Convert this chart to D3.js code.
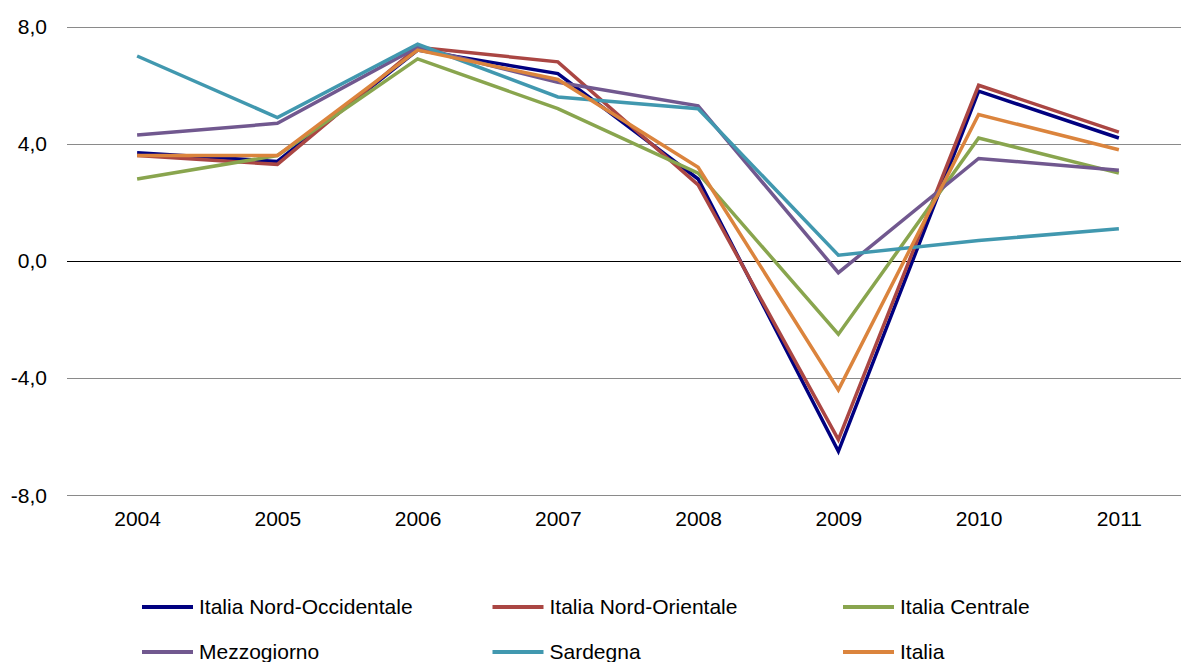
<!DOCTYPE html>
<html>
<head>
<meta charset="utf-8">
<script src="https://cdn.jsdelivr.net/npm/d3@7"></script>
<style>
  body { margin: 0; background: #fff; }
  svg { display: block; font-family: "Liberation Sans", Arial, sans-serif; }
</style>
</head>
<body>
<div id="chart"></div>
<script>
// categories and series
var years = ["2004", "2005", "2006", "2007", "2008", "2009", "2010", "2011"];
var yTicks = [-8, -4, 0, 4, 8];

var nordOccidentale = [3.7, 3.4, 7.2, 6.4, 2.8, -6.5, 5.8, 4.2];
var nordOrientale   = [3.6, 3.3, 7.3, 6.8, 2.6, -6.1, 6.0, 4.4];
var centrale        = [2.8, 3.6, 6.9, 5.2, 3.0, -2.5, 4.2, 3.0];
var mezzogiorno     = [4.3, 4.7, 7.3, 6.1, 5.3, -0.4, 3.5, 3.1];
var sardegna        = [7.0, 4.9, 7.4, 5.6, 5.2, 0.2, 0.7, 1.1];
var italia          = [3.6, 3.6, 7.2, 6.2, 3.2, -4.4, 5.0, 3.8];

var seriesNames = ["Italia Nord-Occidentale", "Italia Nord-Orientale", "Italia Centrale",
                   "Mezzogiorno", "Sardegna", "Italia"];
var seriesColors = ["#000080", "#AA4643", "#89A54E", "#71588F", "#4198AF", "#DB843D"];

var series = [nordOccidentale, nordOrientale, centrale, mezzogiorno, sardegna, italia].map(function(v, i) {
  return { name: seriesNames[i], color: seriesColors[i], values: v };
});

var width = 1181, height = 662;
var left = 67, right = 1189;
var fontSize = 21;

// italian number format, plain hyphen for minus
var itFormat = d3.formatLocale({
  decimal: ",", thousands: ".", grouping: [3], currency: ["", " €"], minus: "-"
}).format(".1f");

var svg = d3.select("#chart").append("svg")
    .attr("width", width)
    .attr("height", height);

var x = d3.scalePoint().domain(years).range([left, right]).padding(0.5);
var y = d3.scaleLinear().domain([-8, 8]).range([495.3, 26.7]);

// gridlines
svg.append("g").selectAll("line")
  .data(yTicks)
  .join("line")
    .attr("x1", left)
    .attr("x2", width)
    .attr("y1", function(d) { return Math.round(y(d)) + 0.5; })
    .attr("y2", function(d) { return Math.round(y(d)) + 0.5; })
    .attr("stroke", function(d) { return d === 0 ? "#000" : "#8a8a8a"; })
    .attr("stroke-width", 1.2);

// y axis labels
var yAxis = d3.axisLeft(y).tickValues(yTicks).tickSize(0).tickPadding(0).tickFormat(itFormat);
svg.append("g")
    .attr("transform", "translate(47,0)")
    .call(yAxis)
    .call(function(g) { g.select(".domain").remove(); })
    .selectAll("text")
    .attr("font-size", fontSize)
    .attr("font-family", "Liberation Sans, Arial, sans-serif")
    .attr("fill", "#000");

// x axis labels
var xAxis = d3.axisBottom(x).tickSize(0).tickPadding(0);
svg.append("g")
    .attr("transform", "translate(0,511)")
    .call(xAxis)
    .call(function(g) { g.select(".domain").remove(); })
    .selectAll("text")
    .attr("font-size", fontSize)
    .attr("font-family", "Liberation Sans, Arial, sans-serif")
    .attr("fill", "#000");

var line = d3.line()
  .x(function(d, i) { return x(years[i]); })
  .y(function(d) { return y(d); });

svg.append("g").selectAll("path")
  .data(series)
  .join("path")
    .attr("d", function(s) { return line(s.values); })
    .attr("fill", "none")
    .attr("stroke", function(s) { return s.color; })
    .attr("stroke-width", 3.5)
    .attr("stroke-linejoin", "miter");

// legend
var legend = svg.append("g").selectAll("g")
  .data(series)
  .join("g")
    .attr("transform", function(s, i) {
      return "translate(" + (142 + (i % 3) * 350.5) + "," + (607 + Math.floor(i / 3) * 45) + ")";
    });

legend.append("line")
    .attr("x1", 0).attr("x2", 51)
    .attr("stroke", function(s) { return s.color; })
    .attr("stroke-width", 4);

legend.append("text")
    .attr("x", 57)
    .attr("dy", "0.35em")
    .attr("font-size", fontSize)
    .text(function(s) { return s.name; });
</script>
</body>
</html>
